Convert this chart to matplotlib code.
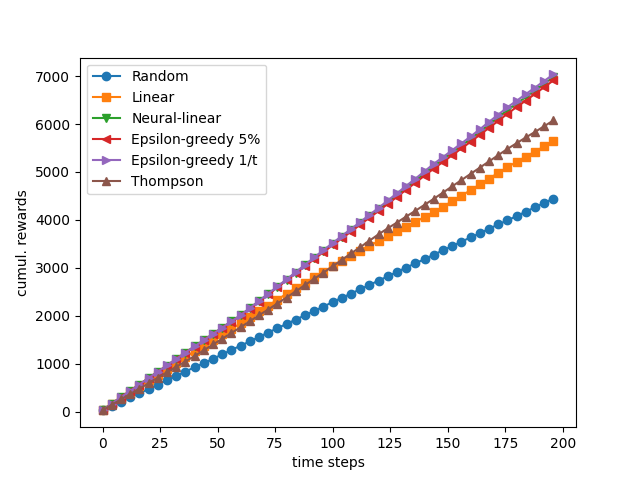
import numpy as np
import matplotlib
matplotlib.use("Agg")
import matplotlib.pyplot as plt

# time steps (one marker every 4 steps)
steps = np.arange(0, 200, 4)

random_rew = [25, 110, 200, 295, 385, 470, 565, 655, 745, 835,
              925, 1010, 1100, 1195, 1285, 1375, 1465, 1555, 1650, 1740,
              1830, 1920, 2010, 2100, 2190, 2285, 2375, 2460, 2555, 2640,
              2735, 2820, 2915, 3005, 3095, 3180, 3275, 3365, 3455, 3545,
              3635, 3720, 3815, 3905, 3990, 4080, 4170, 4265, 4355, 4445]

linear_rew = [30, 155, 280, 400, 525, 650, 770, 895, 1015, 1140,
              1260, 1375, 1490, 1610, 1725, 1840, 1965, 2090, 2210, 2335,
              2460, 2575, 2690, 2800, 2915, 3030, 3135, 3240, 3350, 3455,
              3560, 3660, 3760, 3860, 3960, 4060, 4160, 4275, 4390, 4505,
              4620, 4740, 4860, 4980, 5100, 5210, 5320, 5425, 5535, 5643]

neural_rew = [30, 165, 300, 430, 565, 700, 830, 960, 1095, 1230,
              1360, 1490, 1620, 1750, 1880, 2010, 2155, 2305, 2450, 2600,
              2750, 2900, 3050, 3200, 3350, 3495, 3640, 3785, 3930, 4075,
              4220, 4370, 4520, 4670, 4820, 4970, 5120, 5260, 5400, 5545,
              5690, 5840, 5990, 6140, 6290, 6425, 6565, 6700, 6840, 6975]

eps5_rew = [30, 165, 300, 430, 565, 695, 825, 960, 1090, 1225,
            1355, 1485, 1615, 1745, 1875, 2005, 2150, 2295, 2445, 2590,
            2740, 2885, 3035, 3180, 3330, 3470, 3615, 3755, 3900, 4045,
            4185, 4335, 4480, 4630, 4775, 4925, 5070, 5210, 5350, 5490,
            5630, 5775, 5920, 6065, 6215, 6355, 6490, 6630, 6770, 6910]

eps_t_rew = [30, 165, 300, 430, 565, 700, 830, 965, 1095, 1230,
             1360, 1490, 1620, 1750, 1880, 2010, 2160, 2310, 2460, 2610,
             2760, 2910, 3065, 3215, 3370, 3515, 3665, 3810, 3955, 4105,
             4250, 4405, 4555, 4710, 4860, 5015, 5170, 5310, 5455, 5595,
             5740, 5890, 6045, 6195, 6350, 6485, 6625, 6760, 6900, 7035]

thompson_rew = [30, 140, 255, 365, 480, 590, 705, 820, 935, 1045,
                1160, 1280, 1400, 1520, 1640, 1760, 1885, 2010, 2130, 2255,
                2380, 2510, 2640, 2770, 2900, 3030, 3165, 3300, 3430, 3565,
                3700, 3825, 3945, 4070, 4190, 4315, 4440, 4570, 4700, 4830,
                4960, 5090, 5220, 5350, 5480, 5600, 5720, 5835, 5955, 6075]

fig, ax = plt.subplots(figsize=(6.4, 4.8), dpi=100)

ax.plot(steps, random_rew, marker='o', label="Random")
ax.plot(steps, linear_rew, marker='s', label="Linear")
ax.plot(steps, neural_rew, marker='v', label="Neural-linear")
ax.plot(steps, eps5_rew, marker='<', label="Epsilon-greedy 5%")
ax.plot(steps, eps_t_rew, marker='>', label="Epsilon-greedy 1/t")
ax.plot(steps, thompson_rew, marker='^', label="Thompson")

ax.set_xlabel("time steps")
ax.set_ylabel("cumul. rewards")
ax.legend(loc='upper left')

fig.savefig("out.png")
